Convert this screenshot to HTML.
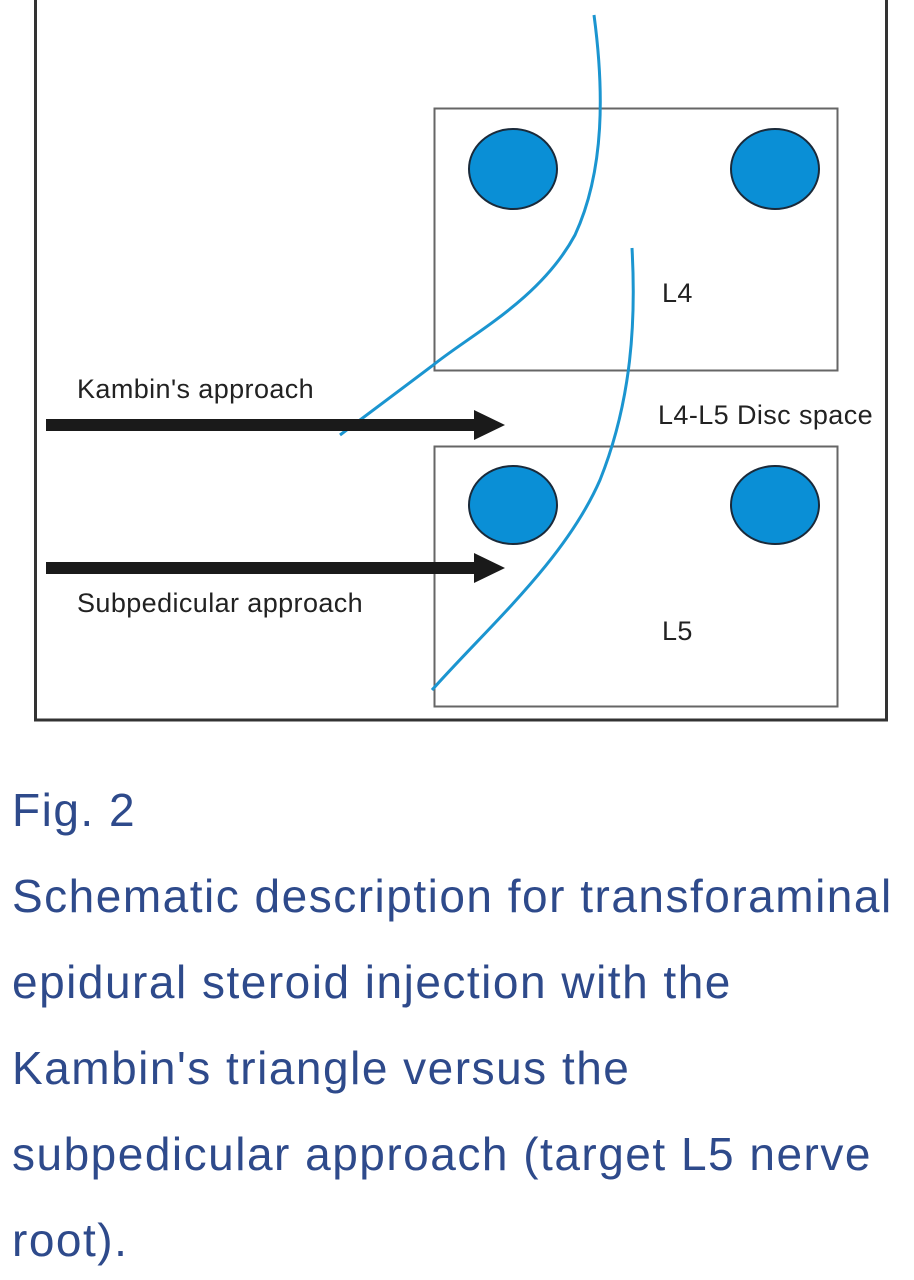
<!DOCTYPE html>
<html><head><style>
body{margin:0;background:#fff;width:914px;height:1280px;overflow:hidden;}
.cap{position:absolute;left:12px;font-family:"Liberation Sans",sans-serif;color:#2e4a8b;font-size:46px;letter-spacing:1.5px;white-space:nowrap;}
</style></head><body>
<svg width="914" height="730" style="position:absolute;left:0;top:0" font-family="Liberation Sans, sans-serif">
<rect x="35.5" y="-10" width="851" height="730" fill="none" stroke="#333" stroke-width="3"/>
<rect x="434.5" y="108.5" width="403" height="262" fill="none" stroke="#666" stroke-width="2"/>
<rect x="434.5" y="446.5" width="403" height="260" fill="none" stroke="#666" stroke-width="2"/>
<g fill="#0a8fd6" stroke="#1a2a3a" stroke-width="2">
<ellipse cx="513" cy="169" rx="44" ry="40"/>
<ellipse cx="775" cy="169" rx="44" ry="40"/>
<ellipse cx="513" cy="505" rx="44" ry="39"/>
<ellipse cx="775" cy="505" rx="44" ry="39"/>
</g>
<g fill="none" stroke="#1b95d0" stroke-width="3">
<path d="M594 15 C604 90 605 170 575 235 C540 300 470 335 432 366 L340 435"/>
<path d="M632 248 C636 320 632 400 600 480 C565 560 490 625 432 690"/>
</g>
<g fill="#1a1a1a">
<rect x="46" y="419" width="432" height="12"/>
<polygon points="474,410 505,425 474,440"/>
<rect x="46" y="562" width="432" height="12"/>
<polygon points="474,553 505,568 474,583"/>
</g>
<g fill="#222" font-size="27" letter-spacing="0.4">
<text x="77" y="398">Kambin's approach</text>
<text x="77" y="612">Subpedicular approach</text>
<text x="662" y="302">L4</text>
<text x="658" y="424">L4-L5 Disc space</text>
<text x="662" y="640">L5</text>
</g>
</svg>
<div class="cap" style="top:783px">Fig. 2</div>
<div class="cap" style="top:869px">Schematic description for transforaminal</div>
<div class="cap" style="top:955px">epidural steroid injection with the</div>
<div class="cap" style="top:1041px">Kambin's triangle versus the</div>
<div class="cap" style="top:1127px">subpedicular approach (target L5 nerve</div>
<div class="cap" style="top:1213px">root).</div>
</body></html>
